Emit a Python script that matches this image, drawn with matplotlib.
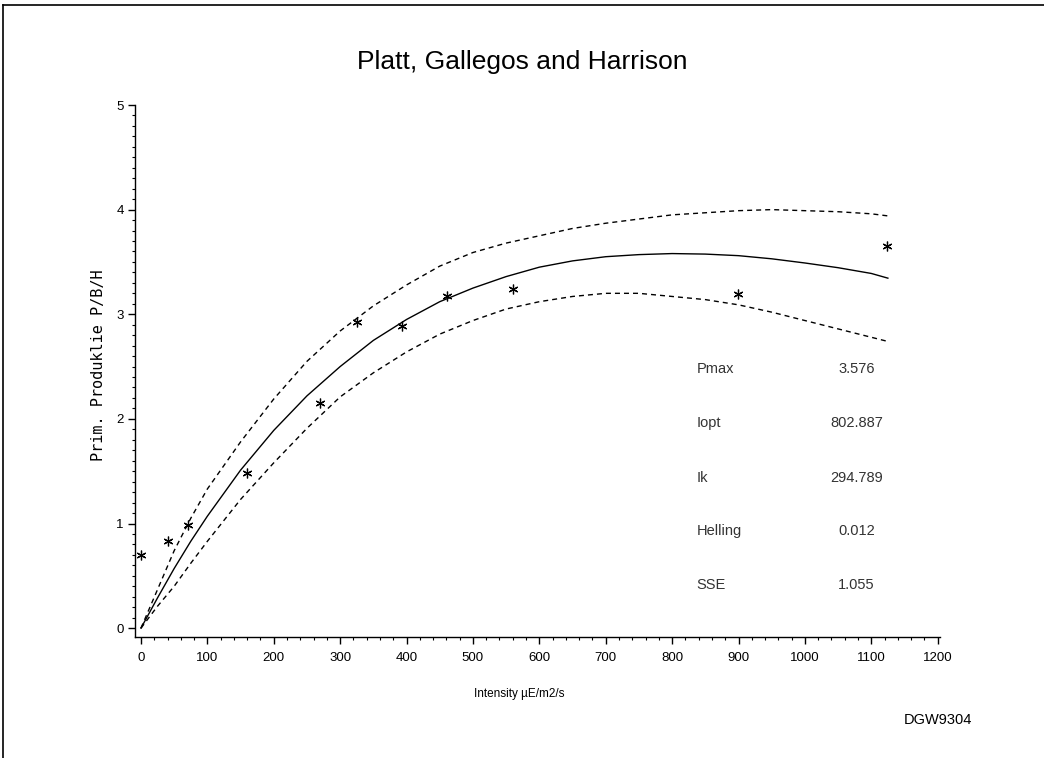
import matplotlib
matplotlib.use("Agg")
import matplotlib.pyplot as plt
from matplotlib.lines import Line2D
from matplotlib.ticker import MultipleLocator

# ---- data ----
intensity_obs = [0, 41, 71, 160, 270, 326, 393, 461, 560, 899, 1124]
pb_obs = [0.70, 0.83, 0.99, 1.48, 2.15, 2.93, 2.89, 3.17, 3.24, 3.19, 3.65]

curve_intensity = [0, 25, 50, 75, 100, 150, 200, 250, 300, 350, 400, 450, 500,
                   550, 600, 650, 700, 750, 800, 850, 900, 950, 1000, 1050,
                   1100, 1125]
fit_pb = [0, 0.29, 0.57, 0.83, 1.07, 1.51, 1.89, 2.22, 2.50, 2.75, 2.95, 3.12,
          3.25, 3.36, 3.45, 3.51, 3.55, 3.57, 3.58, 3.575, 3.56, 3.53, 3.49,
          3.445, 3.39, 3.345]
upper_pb = [0, 0.37, 0.74, 1.05, 1.33, 1.78, 2.19, 2.55, 2.84, 3.08, 3.28, 3.46,
            3.59, 3.68, 3.75, 3.82, 3.87, 3.91, 3.95, 3.97, 3.99, 4.00, 3.99,
            3.98, 3.96, 3.94]
lower_pb = [0, 0.21, 0.40, 0.62, 0.83, 1.23, 1.58, 1.91, 2.21, 2.44, 2.64, 2.81,
            2.94, 3.05, 3.12, 3.17, 3.20, 3.20, 3.17, 3.14, 3.09, 3.02, 2.94,
            2.86, 2.78, 2.74]

param_names = ["Pmax", "Iopt", "Ik", "Helling", "SSE"]
param_values = ["3.576", "802.887", "294.789", "0.012", "1.055"]
param_y = [2.476, 1.96, 1.434, 0.927, 0.411]

x_ticks = list(range(0, 1201, 100))
y_ticks = [0, 1, 2, 3, 4, 5]

title = "Platt, Gallegos and Harrison"
xlabel = "Intensity \u00b5E/m2/s"
ylabel = "Prim. Produklie P/B/H"
footer = "DGW9304"

# ---- figure ----
plt.rcParams["font.family"] = ["Liberation Sans", "DejaVu Sans"]
W, H = 1044, 758
fig = plt.figure(figsize=(W / 100, H / 100), dpi=100)
fig.patch.set_facecolor("white")

left_px, right_px, top_px, bottom_px = 135, 940, 105, 636.5
ax = fig.add_axes([left_px / W, 1 - bottom_px / H,
                   (right_px - left_px) / W, (bottom_px - top_px) / H])

ax.plot(curve_intensity, fit_pb, color="black", lw=1.0)
ax.plot(curve_intensity, upper_pb, color="black", lw=1.0, linestyle=(0, (3.6, 2.9)))
ax.plot(curve_intensity, lower_pb, color="black", lw=1.0, linestyle=(0, (3.6, 2.9)))
ax.plot(intensity_obs, pb_obs, linestyle="none", marker=(6, 2, 0),
        markersize=7, markeredgewidth=0.9, color="black")

ax.set_xlim(-9, 1203.5)
ax.set_ylim(-0.08, 5.0)
ax.set_xticks(x_ticks)
ax.set_yticks(y_ticks)
ax.xaxis.set_minor_locator(MultipleLocator(20))
ax.yaxis.set_minor_locator(MultipleLocator(0.1))
for s in ["top", "right"]:
    ax.spines[s].set_visible(False)
for s in ["left", "bottom"]:
    ax.spines[s].set_linewidth(1.0)
ax.tick_params(axis="both", which="major", direction="out", length=5, width=1.0,
               labelsize=9.5, colors="black")
ax.tick_params(axis="both", which="minor", direction="out", length=2.5, width=0.8)
ax.tick_params(axis="x", which="major", pad=6)
ax.tick_params(axis="y", which="major", pad=3)

for name, val, yv in zip(param_names, param_values, param_y):
    ax.text(837, yv, name, ha="left", va="center", fontsize=10.5, color="#333333")
    ax.text(1078, yv, val, ha="center", va="center", fontsize=10.5, color="#333333")

fig.text(522 / W, 1 - 62 / H, title, ha="center", va="center", fontsize=19)
fig.text(519 / W, 1 - 694 / H, xlabel, ha="center", va="center", fontsize=8.5)
fig.text(98 / W, 1 - 365 / H, ylabel, ha="center", va="center", rotation=90,
         fontsize=11, family=["DejaVu Sans Mono"])
fig.text(938 / W, 1 - 720 / H, footer, ha="center", va="center", fontsize=10.5)

# page border (top and left)
fig.add_artist(Line2D([3 / W, 1.0], [1 - 5 / H, 1 - 5 / H], color="black", lw=1.2,
                      transform=fig.transFigure))
fig.add_artist(Line2D([3 / W, 3 / W], [1 - 5 / H, 0.0], color="black", lw=1.2,
                      transform=fig.transFigure))

fig.savefig("out.png", dpi=100, facecolor="white")
